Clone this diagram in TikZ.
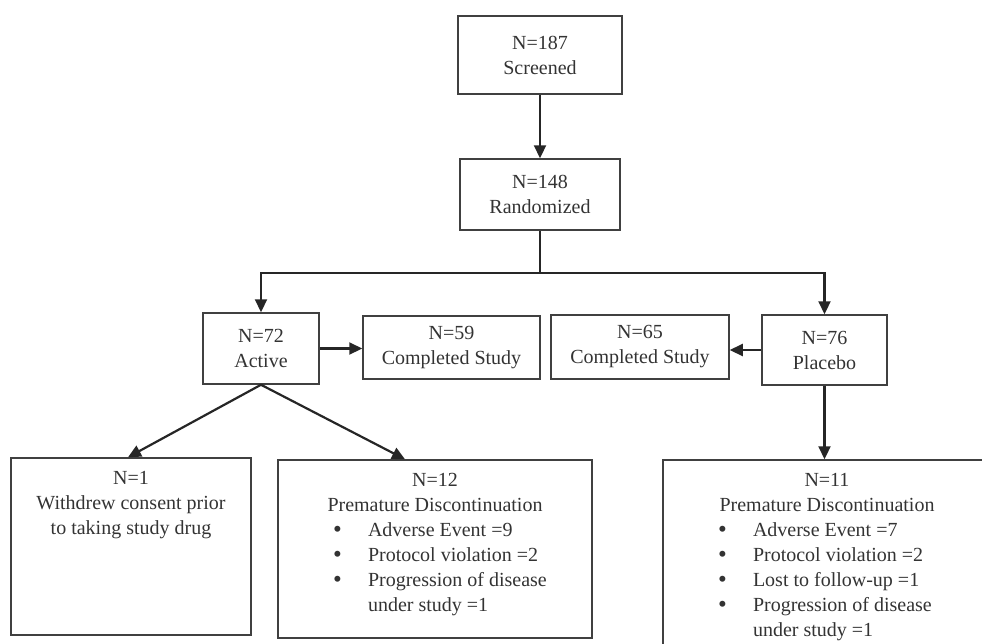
\documentclass[tikz,border=0pt]{standalone}
\usepackage{fontspec}
\setmainfont{Liberation Serif}
\usetikzlibrary{arrows.meta}

\newcommand{\bulletItem}[1]{\hspace*{55pt}\makebox[35pt][l]{\smash{\raisebox{-1pt}{\fontsize{25}{25}\selectfont\textbullet}}}#1}
\newcommand{\hangLine}[1]{\hspace*{90pt}#1}

\begin{document}
\begin{tikzpicture}[x = 1pt, y = -1pt, font = \fontsize{20}{25}\selectfont]
\tikzstyle{boxStyle} = [shape = rectangle, draw = black!75, line width = 1.5pt, inner sep = 0pt, text = black!80, align = center]
\tikzstyle{lineStyle} = [line width = 2.2pt, draw = black!85]
\tikzstyle{arrowStyle} = [lineStyle, -{Triangle[length = 13pt, width = 12pt]}]
\path[use as bounding box, clip] (0,0) rectangle (982,643);
\node[boxStyle, minimum width = 164pt, minimum height = 78pt] (scr) at (540,55) {N=187\\ Screened};
\node[boxStyle, minimum width = 160pt, minimum height = 71pt] (rand) at (540,194.5) {N=148\\ Randomized};
\node[boxStyle, minimum width = 116pt, minimum height = 71pt] (act) at (261,348.5) {N=72\\ Active};
\node[boxStyle, minimum width = 177pt, minimum height = 63pt] (comA) at (451.5,347.5) {N=59\\ Completed Study};
\node[boxStyle, minimum width = 178pt, minimum height = 64pt] (comP) at (640,347) {N=65\\ Completed Study};
\node[boxStyle, minimum width = 125pt, minimum height = 70pt] (plc) at (824.5,350) {N=76\\ Placebo};
\node[boxStyle] (wd) at (131,546.5) {\parbox[t][177pt][t]{240pt}{\vspace*{13pt}\centering
N=1\\ Withdrew consent prior\\ to taking study drug}};
\node[boxStyle] (pdA) at (435,549) {\parbox[t][178pt][t]{314pt}{\vspace*{13pt}\centering
N=12\\ Premature Discontinuation\par\raggedright
\bulletItem{Adverse Event =9}\\
\bulletItem{Protocol violation =2}\\
\bulletItem{Progression of disease}\\
\hangLine{under study =1}}};
\node[boxStyle] (pdP) at (827,561.5) {\parbox[t][203pt][t]{328pt}{\vspace*{13pt}\centering
N=11\\ Premature Discontinuation\par\raggedright
\bulletItem{Adverse Event =7}\\
\bulletItem{Protocol violation =2}\\
\bulletItem{Lost to follow-up =1}\\
\bulletItem{Progression of disease}\\
\hangLine{under study =1}}};
\coordinate (split) at (540,273);
\draw[arrowStyle] (scr) -- (rand);
\draw[lineStyle] (rand) -- (split);
\draw[arrowStyle] (split) -| (act.north);
\draw[arrowStyle] (split) -| (plc.north);
\draw[arrowStyle] (act.east) -- (act.east -| comA.west);
\draw[arrowStyle] (plc.west) -- (plc.west -| comP.east);
\draw[arrowStyle] (act.south) -- ([xshift = -3pt]wd.north);
\draw[arrowStyle] (act.south) -- ([xshift = -30pt]pdA.north);
\draw[arrowStyle] (plc.south) -- (plc.south |- pdP.north);
\end{tikzpicture}
\end{document}
